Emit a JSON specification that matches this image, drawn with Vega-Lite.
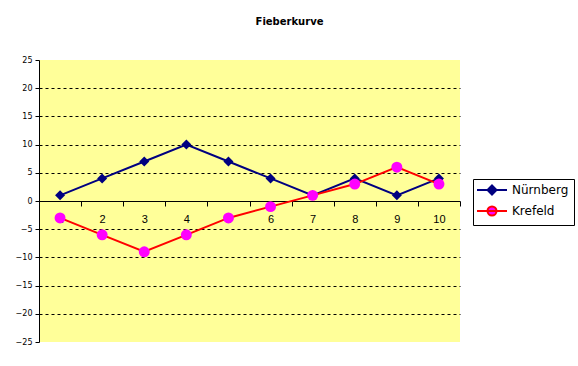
{
  "$schema": "https://vega.github.io/schema/vega-lite/v6.json",
  "width": 421,
  "height": 282,
  "autosize": "none",
  "padding": {"left": 39, "top": 60, "right": 118, "bottom": 24},
  "background": "white",
  "title": {"text": "Fieberkurve", "font": "DejaVu Sans", "fontSize": 10, "fontWeight": "bold", "color": "black", "anchor": "middle", "frame": "group", "dx": 40, "offset": 29},
  "config": {
    "view": {"fill": "#FFFF99", "stroke": null},
    "axis": {"labelFont": "DejaVu Sans", "labelColor": "black", "domainColor": "black", "tickColor": "black", "titleFont": "DejaVu Sans"}
  },
  "data": {"values": [
    {"x": 1, "series": "Nürnberg", "v": 1},
    {"x": 2, "series": "Nürnberg", "v": 4},
    {"x": 3, "series": "Nürnberg", "v": 7},
    {"x": 4, "series": "Nürnberg", "v": 10},
    {"x": 5, "series": "Nürnberg", "v": 7},
    {"x": 6, "series": "Nürnberg", "v": 4},
    {"x": 7, "series": "Nürnberg", "v": 1},
    {"x": 8, "series": "Nürnberg", "v": 4},
    {"x": 9, "series": "Nürnberg", "v": 1},
    {"x": 10, "series": "Nürnberg", "v": 4},
    {"x": 1, "series": "Krefeld", "v": -3},
    {"x": 2, "series": "Krefeld", "v": -6},
    {"x": 3, "series": "Krefeld", "v": -9},
    {"x": 4, "series": "Krefeld", "v": -6},
    {"x": 5, "series": "Krefeld", "v": -3},
    {"x": 6, "series": "Krefeld", "v": -1},
    {"x": 7, "series": "Krefeld", "v": 1},
    {"x": 8, "series": "Krefeld", "v": 3},
    {"x": 9, "series": "Krefeld", "v": 6},
    {"x": 10, "series": "Krefeld", "v": 3}
  ]},
  "encoding": {
    "x": {"field": "x", "type": "ordinal", "scale": {"type": "band", "paddingInner": 0, "paddingOuter": 0},
      "axis": {"title": null, "labelAngle": 0, "offset": -141, "tickBand": "extent", "tickSize": 5, "labelPadding": 7, "labelFontSize": 11, "labelFont": "Liberation Sans", "grid": false, "domainWidth": 1}},
    "y": {"field": "v", "type": "quantitative", "scale": {"domain": [-25, 25], "nice": false, "zero": false},
      "axis": {"title": null, "values": [-25, -20, -15, -10, -5, 0, 5, 10, 15, 20, 25], "tickSize": 4, "labelPadding": 3, "labelFontSize": 8,
        "grid": true, "gridColor": "black", "gridDash": [3, 3], "gridWidth": 1,
        "gridOpacity": {"condition": {"test": "datum.value === 25 || datum.value === -25 || datum.value === 0", "value": 0}, "value": 1}}}
  },
  "layer": [
    {
      "mark": {"type": "line", "strokeWidth": 2},
      "encoding": {
        "stroke": {"field": "series", "type": "nominal", "scale": {"domain": ["Nürnberg", "Krefeld"], "range": ["#000080", "#FF0000"]},
          "legend": {"title": null, "orient": "none", "legendX": 434, "legendY": 119, "strokeColor": "black", "padding": 5,
            "symbolSize": 100, "symbolType": "M-3,0H3M0,-0.9L0.9,0L0,0.9L-0.9,0Z", "symbolOffset": 8, "labelOffset": 14, "rowPadding": 3, "labelFont": "DejaVu Sans", "labelFontSize": 12, "labelColor": "black",
            "encode": {"symbols": {"update": {
              "shape": {"signal": "datum.value === 'Nürnberg' ? 'M-3,0H3M0,-0.9L0.9,0L0,0.9L-0.9,0Z' : 'M-3,0H3M0.9,0A0.9,0.9,0,1,1,-0.9,0A0.9,0.9,0,1,1,0.9,0Z'"},
              "fill": {"signal": "datum.value === 'Nürnberg' ? '#000080' : '#FF00FF'"},
              "fillOpacity": {"value": 1},
              "strokeWidth": {"value": 2}
            }}}}},
        "detail": {"field": "series"}
      }
    },
    {
      "transform": [{"filter": "datum.series === 'Nürnberg'"}],
      "mark": {"type": "point", "filled": true, "opacity": 1, "strokeWidth": 0, "size": 100, "shape": "diamond", "color": "#000080"}
    },
    {
      "transform": [{"filter": "datum.series === 'Krefeld'"}],
      "mark": {"type": "point", "filled": true, "opacity": 1, "strokeWidth": 0, "size": 120, "shape": "circle", "color": "#FF00FF"}
    }
  ]
}
